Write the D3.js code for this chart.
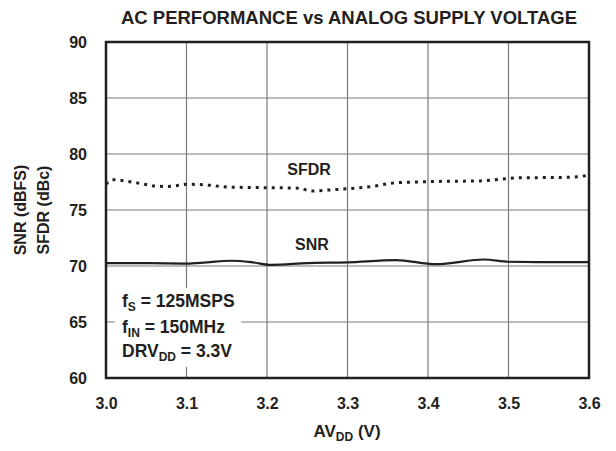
<!DOCTYPE html>
<html><head><meta charset="utf-8">
<script src="https://cdn.jsdelivr.net/npm/d3@7"></script>
<style>body{margin:0;background:#fff}svg{display:block}text{font-family:"Liberation Sans",Arial,sans-serif;font-weight:bold;fill:#231f20}</style>
</head><body>
<script>
const xTicks = [3.0, 3.1, 3.2, 3.3, 3.4, 3.5, 3.6];
const yTicks = [60, 65, 70, 75, 80, 85, 90];
const snrV = [3.0, 3.05, 3.1, 3.125, 3.155, 3.18, 3.205, 3.25, 3.3, 3.36, 3.41, 3.47, 3.5, 3.55, 3.6];
const snrDb = [70.25, 70.25, 70.22, 70.33, 70.47, 70.35, 70.1, 70.25, 70.33, 70.52, 70.16, 70.58, 70.38, 70.35, 70.35];
const sfdrV = [3.0, 3.008, 3.04, 3.06, 3.075, 3.09, 3.1, 3.13, 3.15, 3.19, 3.24, 3.255, 3.28, 3.3, 3.335, 3.355, 3.385, 3.41, 3.465, 3.49, 3.515, 3.56, 3.585, 3.6];
const sfdrDb = [77.3, 77.7, 77.4, 77.15, 77.1, 77.2, 77.3, 77.2, 77.05, 77.0, 76.95, 76.7, 76.8, 76.9, 77.15, 77.4, 77.5, 77.55, 77.6, 77.75, 77.88, 77.9, 77.97, 78.1];

const W = 616, H = 451;
const m = {l: 106, r: 27, t: 42, b: 73};
const svg = d3.select("body").append("svg").attr("width", W).attr("height", H);
const x = d3.scaleLinear().domain([3.0, 3.6]).range([m.l, W - m.r]);
const y = d3.scaleLinear().domain([60, 90]).range([H - m.b, m.t]);

// grid
const g = svg.append("g");
g.selectAll(".vx").data(xTicks.slice(1, -1)).enter().append("line")
  .attr("x1", d => x(d)).attr("x2", d => x(d)).attr("y1", m.t).attr("y2", H - m.b)
  .attr("stroke", "#7a7a7a").attr("stroke-width", 1.2);
g.selectAll(".hy").data(yTicks.slice(1, -1)).enter().append("line")
  .attr("y1", d => y(d)).attr("y2", d => y(d)).attr("x1", m.l).attr("x2", W - m.r)
  .attr("stroke", "#7a7a7a").attr("stroke-width", 1.2);

// axes labels via d3 axes
const xa = svg.append("g").attr("transform", `translate(0,${H - m.b})`)
  .call(d3.axisBottom(x).tickValues(xTicks).tickFormat(d3.format(".1f")).tickSize(0).tickPadding(20));
xa.select(".domain").remove();
xa.selectAll("text").attr("font-size", 16).attr("font-family", "Liberation Sans, Arial").attr("font-weight", "bold").attr("fill", "#231f20");
const ya = svg.append("g").attr("transform", `translate(${m.l},0)`)
  .call(d3.axisLeft(y).tickValues(yTicks).tickFormat(d3.format("d")).tickSize(0).tickPadding(19));
ya.select(".domain").remove();
ya.selectAll("text").attr("font-size", 16).attr("font-family", "Liberation Sans, Arial").attr("font-weight", "bold").attr("fill", "#231f20");

// annotation box (white background)
svg.append("rect").attr("x", 115).attr("y", 288).attr("width", 126).attr("height", 79).attr("fill", "#fff");

// lines
const line = d3.line().curve(d3.curveMonotoneX);
svg.append("path").attr("d", line(snrV.map((v, i) => [x(v), y(snrDb[i])])))
  .attr("fill", "none").attr("stroke", "#231f20").attr("stroke-width", 2.2);
svg.append("path").attr("d", line(sfdrV.map((v, i) => [x(v), y(sfdrDb[i])])))
  .attr("fill", "none").attr("stroke", "#231f20").attr("stroke-width", 3).attr("stroke-dasharray", "3,5");

// frame
svg.append("rect").attr("x", m.l).attr("y", m.t).attr("width", W - m.l - m.r).attr("height", H - m.t - m.b)
  .attr("fill", "none").attr("stroke", "#231f20").attr("stroke-width", 2.5);

// title
svg.append("text").attr("x", 349).attr("y", 24).attr("text-anchor", "middle").attr("font-size", 18.5)
  .text("AC PERFORMANCE vs ANALOG SUPPLY VOLTAGE");

// series labels
svg.append("text").attr("x", 309).attr("y", 175).attr("text-anchor", "middle").attr("font-size", 16).text("SFDR");
svg.append("text").attr("x", 312).attr("y", 250).attr("text-anchor", "middle").attr("font-size", 16).text("SNR");

// axis titles
const xt = svg.append("text").attr("x", 347).attr("y", 437).attr("text-anchor", "middle").attr("font-size", 17);
xt.append("tspan").text("AV");
xt.append("tspan").attr("font-size", 12).attr("dy", 4).text("DD");
xt.append("tspan").attr("dy", -4).text(" (V)");
const yt = svg.append("text").attr("transform", `translate(26,${(m.t + H - m.b) / 2}) rotate(-90)`)
  .attr("text-anchor", "middle").attr("font-size", 16);
yt.append("tspan").attr("x", 0).attr("y", 0).text("SNR (dBFS)");
yt.append("tspan").attr("x", 0).attr("y", 23).text("SFDR (dBc)");

// annotation
function sub(main, s, rest, yy) {
  const e = svg.append("text").attr("x", 122).attr("y", yy).attr("font-size", 17.5);
  e.append("tspan").text(main);
  e.append("tspan").attr("font-size", 12).attr("dy", 4).text(s);
  e.append("tspan").attr("dy", -4).text(rest);
}
sub("f", "S", " = 125MSPS", 307);
sub("f", "IN", " = 150MHz", 333);
sub("DRV", "DD", " = 3.3V", 357);
</script>
</body></html>
